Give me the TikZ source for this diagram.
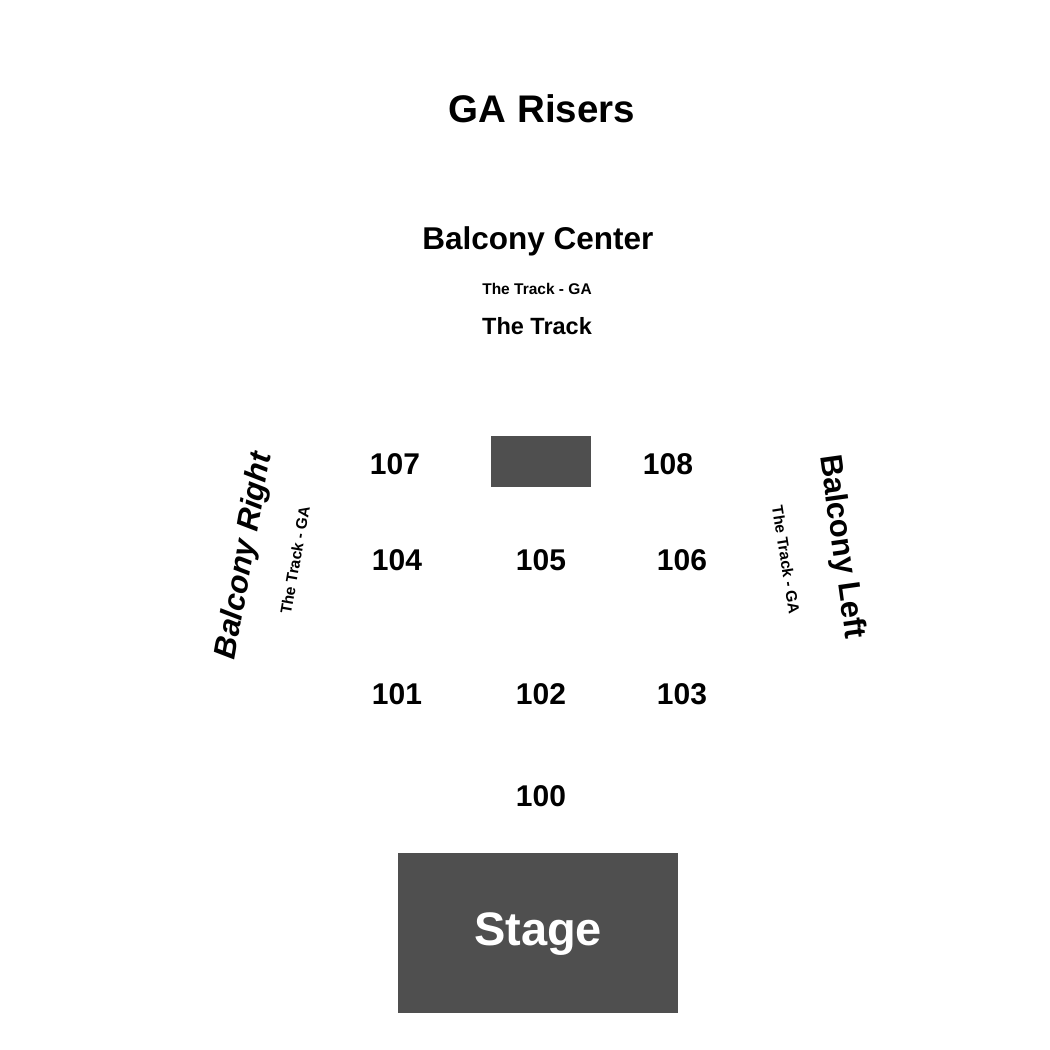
\documentclass[tikz,border=0pt]{standalone}
\usepackage{fontspec}
\setmainfont{Liberation Sans}
\definecolor{blockgray}{HTML}{4F4F4F}
\begin{document}
\begin{tikzpicture}[x=1pt,y=-1pt,
  lbl/.style={inner sep=0pt,font=\bfseries},
  sec/.style={lbl,font=\bfseries\fontsize{30}{30}\selectfont},
  small/.style={lbl,font=\bfseries\fontsize{15.5}{15.5}\selectfont},
  block/.style={fill=blockgray,draw=none}]
\useasboundingbox (0,0) rectangle (1050,1050);
\node[lbl,font=\bfseries\fontsize{38.5}{38.5}\selectfont] (risers) at (542,109) {GA Risers};
\node[lbl,font=\bfseries\fontsize{31.5}{31.5}\selectfont] (bcenter) at (538,241) {Balcony Center};
\node[small] (trackga) at (537,289) {The Track - GA};
\node[lbl,font=\bfseries\fontsize{23.5}{23.5}\selectfont] (track) at (537,326) {The Track};
\fill[block] (491,436) rectangle (591,487);
\node[sec] (s107) at (395,464) {107};
\node[sec] (s108) at (668,464) {108};
\node[sec] (s104) at (397,560) {104};
\node[sec] (s105) at (541,560) {105};
\node[sec] (s106) at (682,560) {106};
\node[sec] (s101) at (397,694) {101};
\node[sec] (s102) at (541,694) {102};
\node[sec] (s103) at (682,694) {103};
\node[sec] (s100) at (541,796) {100};
\fill[block] (398,853) rectangle (678,1013);
\node[lbl,font=\bfseries\fontsize{47}{47}\selectfont,text=white,anchor=base] (stage) at (538,945) {Stage};
\node[lbl,font=\bfseries\itshape\fontsize{31}{31}\selectfont,rotate=80] (bright) at (245,556) {Balcony Right};
\node[small,rotate=80] (trright) at (295,560) {The Track - GA};
\node[lbl,font=\bfseries\fontsize{31}{31}\selectfont,rotate=-82] (bleft) at (841,547) {Balcony Left};
\node[small,rotate=-81] (trleft) at (786,560) {The Track - GA};
\end{tikzpicture}
\end{document}
